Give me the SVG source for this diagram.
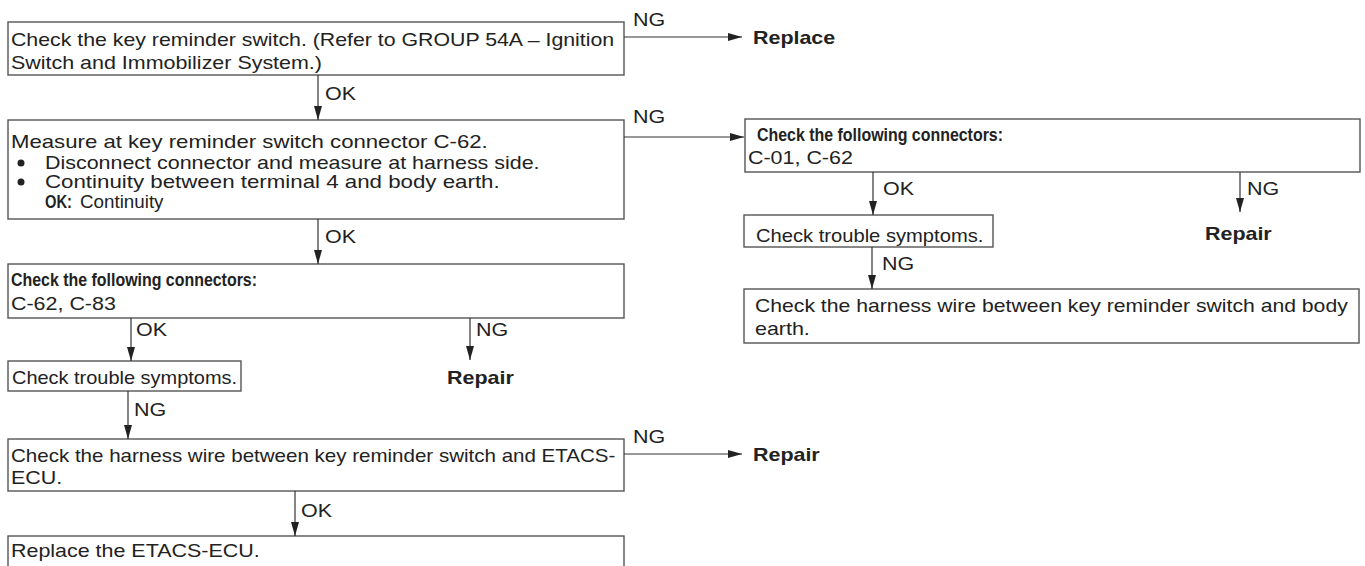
<svg xmlns="http://www.w3.org/2000/svg" width="1365" height="566" viewBox="0 0 1365 566">
<style>
text{font-family:"Liberation Sans",Arial,sans-serif;font-size:18.5px;fill:#222;transform-box:fill-box;transform-origin:0 50%;transform:scaleX(1.16)}
text.n{transform:none}
.b{font-weight:bold}
.box{fill:#fff;stroke:#555;stroke-width:1.4}
.c line{stroke:#333;stroke-width:1.2;marker-end:url(#ah)}
</style>
<defs>
<marker id="ah" markerUnits="userSpaceOnUse" markerWidth="14" markerHeight="8" refX="14" refY="4" orient="auto">
<path d="M0,0 L14,4 L0,8 Z" fill="#222"/>
</marker>
</defs>
<rect width="1365" height="566" fill="#fff"/>
<g id="n1">
<rect class="box" x="8" y="22" width="616" height="53"/>
<text x="11" y="46" textLength="520" lengthAdjust="spacingAndGlyphs">Check the key reminder switch. (Refer to GROUP 54A – Ignition</text>
<text x="11" y="69">Switch and Immobilizer System.)</text>
</g>
<g id="n1ng"><text class="b" x="753" y="44">Replace</text></g>
<g id="n2">
<rect class="box" x="8" y="120" width="616" height="99"/>
<text x="11" y="148" textLength="411" lengthAdjust="spacingAndGlyphs">Measure at key reminder switch connector C-62.</text>
<circle cx="21" cy="163" r="3.5" fill="#222"/>
<text x="45" y="169">Disconnect connector and measure at harness side.</text>
<circle cx="21" cy="182" r="3.5" fill="#222"/>
<text x="45" y="188" textLength="392" lengthAdjust="spacingAndGlyphs">Continuity between terminal 4 and body earth.</text>
<text class="b n" x="45" y="208" textLength="27" lengthAdjust="spacingAndGlyphs">OK:</text>
<text x="80" y="208" textLength="72" lengthAdjust="spacingAndGlyphs">Continuity</text>
</g>
<g id="n3">
<rect class="box" x="8" y="264" width="616" height="54"/>
<text class="b n" x="11" y="286" textLength="246" lengthAdjust="spacingAndGlyphs">Check the following connectors:</text>
<text x="11" y="310">C-62, C-83</text>
</g>
<g id="n3ng"><text class="b" x="447" y="384">Repair</text></g>
<g id="n4">
<rect class="box" x="8" y="361" width="233" height="30"/>
<text x="12" y="384" textLength="194" lengthAdjust="spacingAndGlyphs">Check trouble symptoms.</text>
</g>
<g id="n5">
<rect class="box" x="8" y="439" width="616" height="52"/>
<text x="11" y="462" textLength="521" lengthAdjust="spacingAndGlyphs">Check the harness wire between key reminder switch and ETACS-</text>
<text x="11" y="484">ECU.</text>
</g>
<g id="n5ng"><text class="b" x="753" y="461">Repair</text></g>
<g id="n6">
<rect class="box" x="8" y="536" width="616" height="40"/>
<text x="11" y="557">Replace the ETACS-ECU.</text>
</g>
<g id="n7">
<rect class="box" x="745" y="119" width="615" height="53"/>
<text class="b n" x="757" y="141" textLength="246" lengthAdjust="spacingAndGlyphs">Check the following connectors:</text>
<text x="748" y="164">C-01, C-62</text>
</g>
<g id="n7ng"><text class="b" x="1205" y="240">Repair</text></g>
<g id="n8">
<rect class="box" x="744" y="215" width="249" height="32"/>
<text x="756" y="242" textLength="196" lengthAdjust="spacingAndGlyphs">Check trouble symptoms.</text>
</g>
<g id="n9">
<rect class="box" x="744" y="289" width="615" height="54"/>
<text x="755" y="312" textLength="511" lengthAdjust="spacingAndGlyphs">Check the harness wire between key reminder switch and body</text>
<text x="755" y="335">earth.</text>
</g>
<g id="connectors" class="c">
<line x1="624" y1="37" x2="742" y2="37"/>
<line x1="318" y1="75" x2="318" y2="120"/>
<line x1="624" y1="137" x2="744" y2="137"/>
<line x1="318" y1="219" x2="318" y2="264"/>
<line x1="131" y1="318" x2="131" y2="361"/>
<line x1="470" y1="318" x2="470" y2="360"/>
<line x1="128" y1="391" x2="128" y2="439"/>
<line x1="624" y1="454" x2="742" y2="454"/>
<line x1="295" y1="491" x2="295" y2="536"/>
<line x1="873" y1="172" x2="873" y2="215"/>
<line x1="1240" y1="172" x2="1240" y2="212"/>
<line x1="872" y1="247" x2="872" y2="289"/>
<text x="633" y="26">NG</text>
<text x="325" y="100">OK</text>
<text x="633" y="123">NG</text>
<text x="325" y="243">OK</text>
<text x="136" y="336">OK</text>
<text x="476" y="336">NG</text>
<text x="134" y="416">NG</text>
<text x="633" y="443">NG</text>
<text x="301" y="517">OK</text>
<text x="883" y="195">OK</text>
<text x="1247" y="195">NG</text>
<text x="882" y="270">NG</text>
</g>
</svg>
